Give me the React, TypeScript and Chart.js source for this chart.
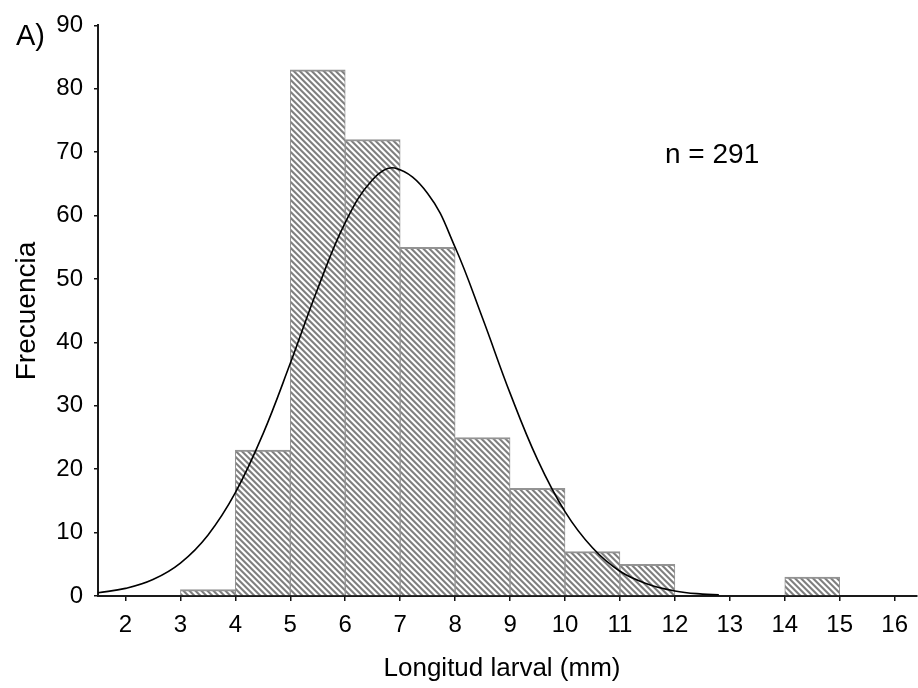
import React, { useEffect, useRef } from 'react';
import { Chart, registerables } from 'chart.js';

Chart.register(...registerables);

// Histogram bins (lower edge, width 1 mm) and frequencies
const binStarts = [3, 4, 5, 6, 7, 8, 9, 10, 11, 14];
const binCounts = [1, 23, 83, 72, 55, 25, 17, 7, 5, 3];
const binWidth = 1;

// Fitted curve
const curveX = [1.5, 2, 2.5, 3, 3.5, 4, 4.5, 5, 5.5, 6, 6.5, 6.9, 7.5, 8, 8.5, 9, 9.5, 10, 10.5, 11, 11.5, 12, 12.5, 12.8];
const curveY = [0.5, 1.2, 2.6, 5.2, 9.6, 16.3, 25.5, 36.7, 48.5, 58.9, 65.7, 67.5, 63.5, 55.0, 43.8, 32.0, 21.5, 13.3, 7.6, 3.9, 1.9, 0.8, 0.3, 0.2];

const xTicks = [2, 3, 4, 5, 6, 7, 8, 9, 10, 11, 12, 13, 14, 15, 16];
const yTicks = [0, 10, 20, 30, 40, 50, 60, 70, 80, 90];

const panelLabel = 'A)';
const nLabel = 'n = 291';
const xTitle = 'Longitud larval (mm)';
const yTitle = 'Frecuencia';

const FONT = '"Liberation Sans", Arial, Helvetica, sans-serif';

function makePattern(ctx: CanvasRenderingContext2D) {
  const P = 6;
  const shades = ['#808080', '#808080', '#aaaaaa', '#ffffff', '#ffffff', '#d6d6d6'];
  const c = document.createElement('canvas');
  c.width = P;
  c.height = P;
  const g = c.getContext('2d')!;
  for (let y = 0; y < P; y++) {
    for (let x = 0; x < P; x++) {
      g.fillStyle = shades[(((x - y) % P) + P) % P];
      g.fillRect(x, y, 1, 1);
    }
  }
  return ctx.createPattern(c, 'repeat');
}

const textPlugin = {
  id: 'textPlugin',
  afterDraw(chart: any) {
    const ctx: CanvasRenderingContext2D = chart.ctx;
    ctx.save();
    ctx.fillStyle = '#000';
    ctx.textBaseline = 'alphabetic';
    ctx.textAlign = 'left';
    ctx.font = `29px ${FONT}`;
    ctx.fillText(panelLabel, 16, 45);
    ctx.font = `28px ${FONT}`;
    ctx.fillText(nLabel, 665, 163);
    ctx.font = `26px ${FONT}`;
    ctx.textAlign = 'center';
    ctx.fillText(xTitle, 502, 676);
    ctx.font = `28px ${FONT}`;
    ctx.translate(35, 311);
    ctx.rotate(-Math.PI / 2);
    ctx.fillText(yTitle, 0, 0);
    ctx.restore();
  },
};

export default function App() {
  const ref = useRef<HTMLCanvasElement>(null);

  useEffect(() => {
    const canvas = ref.current!;
    const ctx = canvas.getContext('2d')!;
    const pattern = makePattern(ctx);

    const chart = new Chart(ctx, {
      type: 'bar',
      data: {
        datasets: [
          {
            type: 'line',
            data: curveX.map((x, i) => ({ x, y: curveY[i] })),
            borderColor: '#000',
            borderWidth: 1.6,
            pointRadius: 0,
            tension: 0.4,
            fill: false,
            order: 0,
          } as any,
          {
            type: 'bar',
            data: binStarts.map((s, i) => ({ x: s + binWidth / 2, y: binCounts[i] })),
            backgroundColor: pattern as any,
            borderColor: '#939393',
            borderWidth: { left: 1, right: 1, top: 2, bottom: 0 },
            borderSkipped: 'start',
            barPercentage: 1,
            categoryPercentage: 1,
            order: 1,
          } as any,
        ],
      },
      options: {
        animation: false,
        responsive: false,
        devicePixelRatio: 1,
        layout: { padding: { top: 21, left: 0, right: 0, bottom: 0 } },
        plugins: {
          legend: { display: false },
          tooltip: { enabled: false },
        },
        scales: {
          x: {
            type: 'linear',
            min: 1.5,
            max: 16.4,
            offset: false,
            afterBuildTicks: (scale: any) => {
              scale.ticks = xTicks.map((v) => ({ value: v }));
            },
            afterFit: (scale: any) => {
              scale.height = 92;
            },
            grid: {
              display: true,
              offset: false,
              drawOnChartArea: false,
              drawTicks: true,
              tickLength: 5,
              color: '#111',
              lineWidth: 1.5,
            },
            border: { display: true, color: '#1a1a1a', width: 2 },
            ticks: {
              color: '#000',
              font: { family: FONT, size: 24 },
              padding: 10,
              maxRotation: 0,
              autoSkip: false,
            },
          },
          y: {
            type: 'linear',
            min: 0,
            max: 90,
            afterBuildTicks: (scale: any) => {
              scale.ticks = yTicks.map((v) => ({ value: v }));
            },
            afterFit: (scale: any) => {
              scale.width = 98;
            },
            grid: {
              display: true,
              drawOnChartArea: false,
              drawTicks: true,
              tickLength: 4,
              color: '#111',
              lineWidth: 1.5,
            },
            border: { display: true, color: '#1a1a1a', width: 2 },
            ticks: {
              color: '#000',
              font: { family: FONT, size: 24 },
              padding: 11,
            },
          },
        },
      },
      plugins: [textPlugin],
    } as any);

    return () => chart.destroy();
  }, []);

  return (
    <div style={{ position: 'absolute', left: 0, top: 0, width: 918, height: 688, background: '#fff' }}>
      <canvas ref={ref} width={918} height={688} style={{ display: 'block' }} />
    </div>
  );
}
